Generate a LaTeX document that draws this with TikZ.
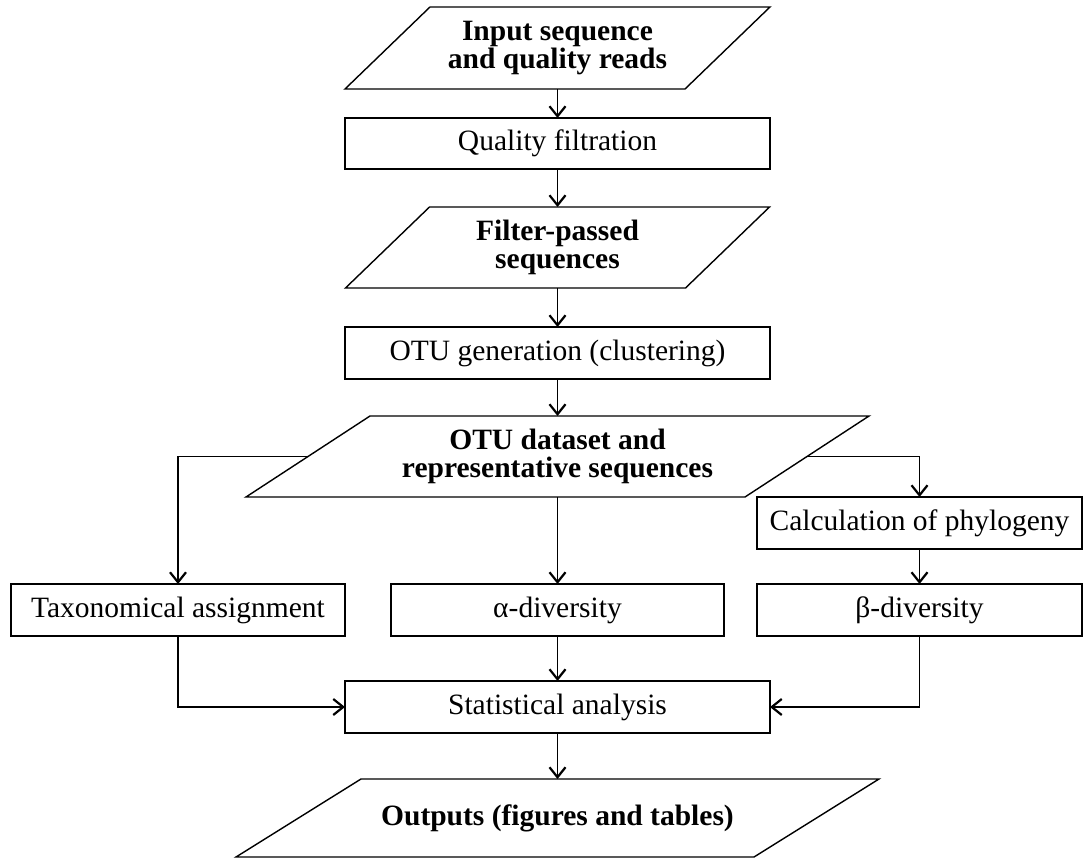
\documentclass[tikz,border=0pt]{standalone}
\usepackage{fontspec}
\setmainfont{Liberation Serif}
\usetikzlibrary{arrows.meta}
\newcommand\paraoutline[2]{\draw[line] ([xshift=-#2]#1.south west) -- ([xshift=-#2]#1.south east) -- ([xshift=#2]#1.north east) -- ([xshift=#2]#1.north west) -- cycle;}
\begin{document}
\begin{tikzpicture}[x=1pt,y=-1pt,
  line/.style={line width=1.4pt, line join=miter},
  arr/.style={line width=1.4pt, -{Straight Barb[length=10pt,width=16pt,line width=2.2pt]}},
  box/.style={draw, line width=1.4pt, inner sep=0pt, outer sep=0pt, align=center, font=\fontsize{29.5}{28}\selectfont},
  para/.style={inner sep=0pt, outer sep=0pt, align=center, font=\fontsize{29.5}{28}\selectfont\bfseries},
]
\useasboundingbox (0,0) rectangle (1084,859);
\node[para, minimum width=340pt, minimum height=82pt] (in) at (557.5,48) {Input sequence\\and quality reads};
\node[box, minimum width=425pt, minimum height=51pt] (qf) at (557.5,143.5) {Quality filtration};
\node[para, minimum width=340pt, minimum height=81pt] (fp) at (557.5,247.5) {Filter-passed\\sequences};
\node[box, minimum width=425pt, minimum height=52pt] (otu) at (557.5,353) {OTU generation (clustering)};
\node[para, minimum width=499pt, minimum height=81pt] (ds) at (557.5,456.5) {OTU dataset and\\representative sequences};
\node[box, minimum width=325pt, minimum height=52pt] (phy) at (919.5,523) {Calculation of phylogeny};
\node[box, minimum width=334pt, minimum height=52pt] (tax) at (178,610) {Taxonomical assignment};
\node[box, minimum width=333pt, minimum height=52pt] (alpha) at (557.5,610) {α-diversity};
\node[box, minimum width=325pt, minimum height=52pt] (beta) at (919.5,610) {β-diversity};
\node[box, minimum width=425pt, minimum height=52pt] (stat) at (557.5,707) {Statistical analysis};
\node[para, minimum width=518pt, minimum height=78pt] (out) at (557.5,818) {Outputs (figures and tables)};
\paraoutline{in}{42.5pt}
\paraoutline{fp}{42pt}
\paraoutline{ds}{62pt}
\paraoutline{out}{62.5pt}
\draw[arr] (in.south) -- (qf.north);
\draw[arr] (qf.south) -- (fp.north);
\draw[arr] (fp.south) -- (otu.north);
\draw[arr] (otu.south) -- (ds.north);
\draw[arr] (ds.south) -- (alpha.north);
\draw[arr] (ds.west) -| (tax.north);
\draw[arr] (ds.east) -| (phy.north);
\draw[arr] (phy.south) -- (beta.north);
\draw[arr] (alpha.south) -- (stat.north);
\draw[arr] (tax.south) |- (stat.west);
\draw[arr] (beta.south) |- (stat.east);
\draw[arr] (stat.south) -- (out.north);
\end{tikzpicture}
\end{document}
